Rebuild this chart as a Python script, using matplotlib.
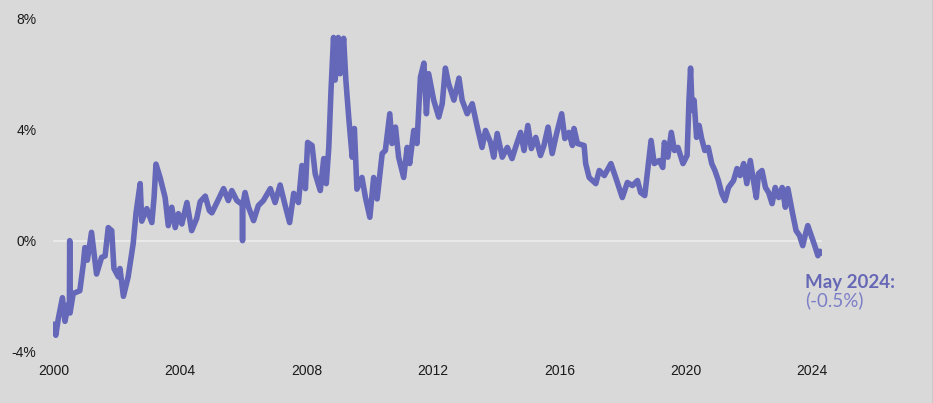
import matplotlib
matplotlib.use('Agg')
import matplotlib.pyplot as plt
from matplotlib.lines import Line2D

# (decimal year, %)
years = [
    2000.00, 2000.06, 2000.14, 2000.27, 2000.35, 2000.45, 2000.49, 2000.50, 2000.51, 2000.61,
    2000.82, 2000.93, 2000.98, 2001.06, 2001.19, 2001.35, 2001.51, 2001.62, 2001.72, 2001.83,
    2001.90, 2002.04, 2002.09, 2002.20, 2002.35, 2002.51, 2002.60, 2002.73, 2002.78, 2002.94,
    2003.10, 2003.17, 2003.23, 2003.36, 2003.52, 2003.62, 2003.73, 2003.84, 2003.94, 2004.05,
    2004.21, 2004.36, 2004.52, 2004.63, 2004.79, 2004.92, 2005.00, 2005.16, 2005.37, 2005.52,
    2005.63, 2005.79, 2005.96, 2005.97, 2005.98, 2006.05, 2006.16, 2006.32, 2006.47, 2006.63,
    2006.85, 2007.00, 2007.16, 2007.32, 2007.46, 2007.59, 2007.74, 2007.85, 2007.96, 2008.03,
    2008.17, 2008.27, 2008.43, 2008.54, 2008.62, 2008.70, 2008.77, 2008.85, 2008.90, 2009.00,
    2009.06, 2009.17, 2009.24, 2009.33, 2009.44, 2009.51, 2009.59, 2009.75, 2009.86, 2010.00,
    2010.12, 2010.23, 2010.39, 2010.49, 2010.63, 2010.70, 2010.81, 2010.91, 2011.07, 2011.18,
    2011.26, 2011.39, 2011.49, 2011.60, 2011.71, 2011.79, 2011.86, 2012.02, 2012.18, 2012.29,
    2012.39, 2012.49, 2012.66, 2012.82, 2012.92, 2013.08, 2013.24, 2013.40, 2013.55, 2013.66,
    2013.82, 2013.92, 2014.03, 2014.19, 2014.35, 2014.50, 2014.61, 2014.77, 2014.88, 2015.00,
    2015.11, 2015.25, 2015.40, 2015.51, 2015.64, 2015.77, 2015.91, 2016.07, 2016.17, 2016.30,
    2016.41, 2016.46, 2016.57, 2016.78, 2016.83, 2016.94, 2017.15, 2017.26, 2017.42, 2017.63,
    2017.78, 2017.99, 2018.15, 2018.31, 2018.47, 2018.57, 2018.70, 2018.78, 2018.90, 2019.00,
    2019.16, 2019.27, 2019.32, 2019.43, 2019.54, 2019.64, 2019.75, 2019.91, 2020.04, 2020.10,
    2020.15, 2020.20, 2020.26, 2020.34, 2020.42, 2020.50, 2020.60, 2020.71, 2020.82, 2020.92,
    2021.03, 2021.14, 2021.24, 2021.35, 2021.51, 2021.62, 2021.72, 2021.83, 2021.93, 2022.04,
    2022.14, 2022.23, 2022.30, 2022.41, 2022.52, 2022.62, 2022.73, 2022.83, 2022.94, 2023.05,
    2023.15, 2023.23, 2023.30, 2023.38, 2023.49, 2023.60, 2023.70, 2023.79, 2023.86, 2023.97,
    2024.08, 2024.18, 2024.24, 2024.29,
]
values = [
    -3.0, -3.4, -2.8, -2.05, -2.9, -2.3, -2.5, 0.0, -2.6, -1.9,
    -1.8, -0.85, -0.25, -0.7, 0.3, -1.2, -0.6, -0.55, 0.47, 0.36,
    -1.0, -1.3, -1.0, -2.0, -1.3, -0.1, 1.0, 2.05, 0.7, 1.15,
    0.65, 1.55, 2.75, 2.27, 1.55, 0.54, 1.2, 0.47, 0.97, 0.6,
    1.37, 0.36, 0.8, 1.4, 1.6, 1.08, 1.0, 1.37, 1.87, 1.44,
    1.8, 1.44, 1.3, 0.0, 1.3, 1.73, 1.2, 0.72, 1.26, 1.44,
    1.87, 1.37, 2.0, 1.26, 0.65, 1.7, 1.37, 2.7, 1.87, 3.53,
    3.42, 2.4, 1.8, 2.95, 2.05, 3.35, 5.4, 7.3, 5.77, 7.3,
    6.0, 7.27, 5.77, 4.44, 3.0, 4.03, 1.85, 2.27, 1.55, 0.84,
    2.27, 1.5, 3.13, 3.24, 4.56, 3.49, 4.08, 3.0, 2.27, 3.35,
    2.77, 3.96, 3.49, 5.87, 6.38, 4.56, 6.0, 5.05, 4.44, 4.92,
    6.2, 5.65, 5.05, 5.84, 5.05, 4.56, 4.92, 4.08, 3.35, 3.96,
    3.53, 3.0, 3.85, 3.0, 3.35, 2.95, 3.35, 3.89, 3.24, 4.14,
    3.31, 3.71, 3.06, 3.42, 4.08, 3.13, 3.85, 4.56, 3.67, 3.89,
    3.42, 4.03, 3.49, 3.42, 2.77, 2.27, 2.05, 2.52, 2.34, 2.77,
    2.27, 1.55, 2.09, 1.98, 2.16, 1.73, 1.62, 2.41, 3.6, 2.77,
    2.88, 2.63, 3.53, 3.0, 3.89, 3.24, 3.35, 2.77, 3.06, 5.05,
    6.2, 4.68, 5.05, 3.71, 4.14, 3.67, 3.24, 3.35, 2.77, 2.52,
    2.16, 1.69, 1.44, 1.91, 2.16, 2.59, 2.34, 2.77, 2.05, 2.88,
    2.16, 1.55, 2.41, 2.52, 1.91, 1.73, 1.33, 1.91, 1.55, 1.91,
    1.2, 1.87, 1.44, 0.97, 0.36, 0.18, -0.18, 0.25, 0.54, 0.18,
    -0.18, -0.54, -0.38, -0.45,
]
xticks = [2000, 2004, 2008, 2012, 2016, 2020, 2024]
yticks = [-4, 0, 4, 8]
ytick_labels = ['-4%', '0%', '4%', '8%']
label_title = 'May 2024:'
label_value = '(-0.5%)'

bg = '#d9d9d9'
purple = '#6567b9'

plt.rcParams['font.family'] = ['Liberation Sans', 'DejaVu Sans']

fig = plt.figure(figsize=(9.33, 4.03), dpi=100, facecolor=bg)
ax = fig.add_axes([0.0571, 0.1266, 0.8236, 0.8287], facecolor=bg)

ax.axhline(0, color='#eeeeee', lw=1.1, zorder=1)
ax.plot(years, values, color=purple, lw=4.0, solid_joinstyle='round',
        solid_capstyle='round', zorder=2)

ax.set_xlim(1999.98, 2024.3)
ax.set_ylim(-4, 8)
ax.set_xticks(xticks)
ax.set_xticklabels([str(y) for y in xticks])
ax.set_yticks(yticks)
ax.set_yticklabels(ytick_labels)
ax.tick_params(length=0, labelsize=10, labelcolor='#1a1a1a')
ax.tick_params(axis='x', pad=9)
ax.tick_params(axis='y', pad=12)
for s in ax.spines.values():
    s.set_visible(False)

ax.text(2023.77, -1.69, label_title, color='#6668b5', fontsize=13.5,
        fontweight='bold', family=['Lato', 'DejaVu Sans'], va='baseline',
        ha='left', clip_on=False)
ax.text(2023.77, -2.36, label_value, color='#7c7ec8', fontsize=13.5,
        family=['Lato', 'DejaVu Sans'], va='baseline', ha='left', clip_on=False)

# thin border on the right edge like the screenshot
fig.add_artist(Line2D([0.9995, 0.9995], [0, 1], transform=fig.transFigure,
                      color='#8a8a8a', lw=1))

fig.savefig('out.png', dpi=100, facecolor=bg)
